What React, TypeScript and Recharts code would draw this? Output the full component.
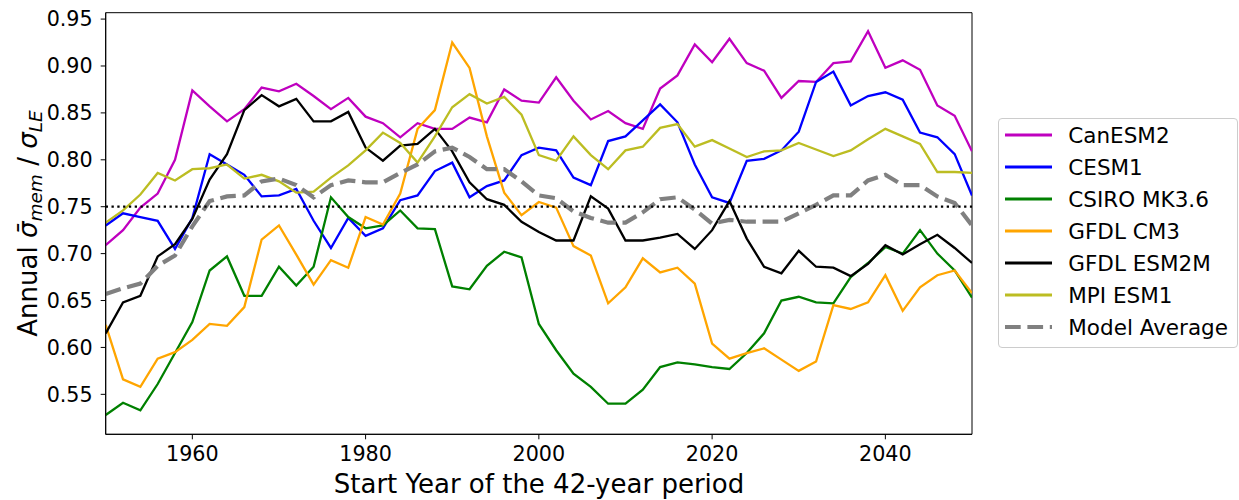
import React from 'react';
import { LineChart, Line, XAxis, YAxis, ReferenceLine, ReferenceArea, Label } from 'recharts';

const FONT = '"DejaVu Sans", "Liberation Sans", sans-serif';

// Start year of each 42-year window
const years = [
  1950, 1952, 1954, 1956, 1958, 1960, 1962, 1964, 1966, 1968, 1970, 1972, 1974, 1976,
  1978, 1980, 1982, 1984, 1986, 1988, 1990, 1992, 1994, 1996, 1998, 2000,
  2002, 2004, 2006, 2008, 2010, 2012, 2014, 2016, 2018, 2020, 2022, 2024, 2026,
  2028, 2030, 2032, 2034, 2036, 2038, 2040, 2042, 2044, 2046, 2048, 2050,
];

const canesm2 = [
  0.709, 0.725, 0.749, 0.764, 0.800, 0.874, 0.857, 0.841, 0.854, 0.877, 0.873, 0.881, 0.868, 0.854,
  0.866, 0.846, 0.839, 0.824, 0.839, 0.833, 0.833, 0.845, 0.840, 0.875, 0.863, 0.861,
  0.888, 0.863, 0.843, 0.852, 0.839, 0.833, 0.876, 0.890, 0.923, 0.904, 0.929, 0.903, 0.895,
  0.866, 0.884, 0.883, 0.903, 0.905, 0.937, 0.898, 0.906, 0.896, 0.858, 0.847, 0.809,
];

const cesm1 = [
  0.730, 0.743, 0.739, 0.735, 0.705, 0.738, 0.806, 0.795, 0.784, 0.761, 0.762, 0.769, 0.735, 0.706,
  0.738, 0.719, 0.727, 0.757, 0.762, 0.788, 0.797, 0.760, 0.772, 0.778, 0.805, 0.813,
  0.810, 0.781, 0.773, 0.820, 0.825, 0.842, 0.859, 0.840, 0.795, 0.760, 0.754, 0.799, 0.801,
  0.810, 0.830, 0.883, 0.894, 0.858, 0.868, 0.872, 0.864, 0.829, 0.824, 0.806, 0.762,
];

const csiroMk36 = [
  0.528, 0.541, 0.533, 0.561, 0.594, 0.627, 0.682, 0.697, 0.655, 0.655, 0.686, 0.666, 0.686, 0.760,
  0.739, 0.727, 0.730, 0.746, 0.727, 0.726, 0.665, 0.662, 0.687, 0.702, 0.696, 0.625,
  0.597, 0.572, 0.558, 0.540, 0.540, 0.555, 0.579, 0.584, 0.582, 0.579, 0.577, 0.594, 0.615,
  0.650, 0.654, 0.648, 0.647, 0.675, 0.690, 0.707, 0.700, 0.725, 0.700, 0.682, 0.653,
];

const gfdlCm3 = [
  0.624, 0.566, 0.558, 0.588, 0.595, 0.608, 0.625, 0.623, 0.643, 0.715, 0.730, 0.699, 0.667, 0.693,
  0.685, 0.739, 0.731, 0.764, 0.833, 0.853, 0.925, 0.898, 0.825, 0.765, 0.741, 0.755,
  0.749, 0.708, 0.698, 0.647, 0.664, 0.695, 0.680, 0.685, 0.668, 0.604, 0.588, 0.594, 0.599,
  0.587, 0.575, 0.585, 0.645, 0.641, 0.648, 0.677, 0.639, 0.664, 0.677, 0.682, 0.658,
];

const gfdlEsm2m = [
  0.615, 0.648, 0.655, 0.697, 0.710, 0.737, 0.779, 0.806, 0.853, 0.869, 0.857, 0.865, 0.841, 0.841,
  0.851, 0.813, 0.799, 0.815, 0.817, 0.833, 0.809, 0.776, 0.758, 0.752, 0.734, 0.723,
  0.714, 0.714, 0.761, 0.748, 0.714, 0.714, 0.717, 0.721, 0.705, 0.725, 0.756, 0.716, 0.686,
  0.679, 0.703, 0.686, 0.685, 0.676, 0.689, 0.709, 0.699, 0.710, 0.720, 0.706, 0.690,
];

const mpiEsm1 = [
  0.733, 0.746, 0.763, 0.786, 0.778, 0.790, 0.791, 0.795, 0.780, 0.784, 0.777, 0.765, 0.766, 0.781,
  0.794, 0.810, 0.829, 0.818, 0.797, 0.825, 0.856, 0.870, 0.860, 0.867, 0.848, 0.805,
  0.799, 0.825, 0.805, 0.790, 0.810, 0.814, 0.834, 0.838, 0.814, 0.821, 0.812, 0.803, 0.809,
  0.810, 0.818, 0.811, 0.804, 0.810, 0.822, 0.833, 0.825, 0.817, 0.787, 0.787, 0.786,
];

const modelAverage = [
  0.657, 0.663, 0.668, 0.687, 0.698, 0.729, 0.756, 0.761, 0.762, 0.777, 0.780, 0.773, 0.760, 0.773,
  0.778, 0.776, 0.776, 0.786, 0.795, 0.809, 0.813, 0.803, 0.790, 0.790, 0.777, 0.762,
  0.759, 0.745, 0.738, 0.733, 0.733, 0.744, 0.758, 0.760, 0.747, 0.732, 0.736, 0.734, 0.734,
  0.734, 0.743, 0.752, 0.762, 0.762, 0.778, 0.784, 0.773, 0.773, 0.761, 0.754, 0.730,
];

const xTicks = [1960, 1980, 2000, 2020, 2040];
const yTicks = [0.55, 0.6, 0.65, 0.7, 0.75, 0.8, 0.85, 0.9, 0.95];
const X_DOMAIN: [number, number] = [1950, 2050];
const Y_DOMAIN: [number, number] = [0.5074, 0.9568];
const REFERENCE_RATIO = 0.75;

type SeriesDef = { key: string; name: string; color: string; dashed?: boolean };

const series: SeriesDef[] = [
  { key: 'canesm2', name: 'CanESM2', color: '#bf00bf' },
  { key: 'cesm1', name: 'CESM1', color: '#0000ff' },
  { key: 'csiroMk36', name: 'CSIRO MK3.6', color: '#008000' },
  { key: 'gfdlCm3', name: 'GFDL CM3', color: '#ffa500' },
  { key: 'gfdlEsm2m', name: 'GFDL ESM2M', color: '#000000' },
  { key: 'mpiEsm1', name: 'MPI ESM1', color: '#bcbd22' },
  { key: 'modelAverage', name: 'Model Average', color: '#808080', dashed: true },
];

const data = years.map((year, i) => ({
  year,
  canesm2: canesm2[i],
  cesm1: cesm1[i],
  csiroMk36: csiroMk36[i],
  gfdlCm3: gfdlCm3[i],
  gfdlEsm2m: gfdlEsm2m[i],
  mpiEsm1: mpiEsm1[i],
  modelAverage: modelAverage[i],
}));

const LINE_W = 2.3;
const AVG_W = 4.2;
const AVG_DASH = '15.7 6.7';

// Legend box to the right of the axes
const LegendBox = () => (
  <div
    style={{
      position: 'absolute',
      left: 998,
      top: 118,
      width: 240,
      height: 230,
      boxSizing: 'border-box',
      border: '1px solid #cccccc',
      borderRadius: 4,
      background: 'rgba(255,255,255,0.8)',
    }}
  >
    <svg width={238} height={228} style={{ display: 'block' }}>
      {series.map((s, i) => {
        const cy = 16 + i * 32;
        return (
          <g key={s.key}>
            <line
              x1={6}
              x2={53}
              y1={cy}
              y2={cy}
              stroke={s.color}
              strokeWidth={s.dashed ? AVG_W : 2.8}
              strokeDasharray={s.dashed ? AVG_DASH : undefined}
            />
            <text x={69.3} y={cy + 8} fontSize={21.5} fontFamily={FONT} fill="#000">
              {s.name}
            </text>
          </g>
        );
      })}
    </svg>
  </div>
);

const XLabel = () => (
  <text x={539} y={493.3} textAnchor="middle" fontSize={26} fontFamily={FONT} fill="#000">
    Start Year of the 42-year period
  </text>
);

const YLabel = () => {
  const x = 37;
  const y = 223.5;
  return (
    <text
      x={x}
      y={y}
      transform={`rotate(-90, ${x}, ${y})`}
      textAnchor="middle"
      fontSize={26}
      fontFamily={FONT}
      fill="#000"
    >
      <tspan>Annual </tspan>
      <tspan fontStyle="italic">{'\u03C3\u0304'}</tspan>
      <tspan fontStyle="italic" fontSize={18.5} dy={5}>mem</tspan>
      <tspan dy={-5}>{' / '}</tspan>
      <tspan fontStyle="italic">{'\u03C3'}</tspan>
      <tspan fontStyle="italic" fontSize={18.5} dy={5}>LE</tspan>
    </text>
  );
};

export default function App() {
  return (
    <div style={{ position: 'absolute', left: 0, top: 0, width: 1239, height: 500, background: '#fff' }}>
      <LineChart
        width={1239}
        height={500}
        data={data}
        margin={{ top: 12.7, right: 267, bottom: 0, left: 0 }}
      >
        <XAxis
          dataKey="year"
          type="number"
          domain={X_DOMAIN}
          ticks={xTicks}
          allowDataOverflow
          height={65.7}
          tickSize={5}
          tickMargin={7}
          axisLine={{ stroke: '#000', strokeWidth: 1 }}
          tickLine={{ stroke: '#000', strokeWidth: 1 }}
          tick={{ fill: '#000', fontSize: 20.7, fontFamily: FONT }}
        >
          <Label content={XLabel} />
        </XAxis>
        <YAxis
          type="number"
          domain={Y_DOMAIN}
          ticks={yTicks}
          interval={0}
          allowDataOverflow
          width={105.7}
          tickSize={5}
          tickMargin={8}
          tickFormatter={(v: number) => v.toFixed(2)}
          axisLine={{ stroke: '#000', strokeWidth: 1 }}
          tickLine={{ stroke: '#000', strokeWidth: 1 }}
          tick={{ fill: '#000', fontSize: 20.7, fontFamily: FONT }}
        >
          <Label content={YLabel} />
        </YAxis>
        {series.map((s) => (
          <Line
            key={s.key}
            type="linear"
            dataKey={s.key}
            name={s.name}
            stroke={s.color}
            strokeWidth={s.dashed ? AVG_W : LINE_W}
            strokeDasharray={s.dashed ? AVG_DASH : undefined}
            dot={false}
            activeDot={false}
            isAnimationActive={false}
          />
        ))}
        <ReferenceLine
          y={REFERENCE_RATIO}
          stroke="#000"
          strokeWidth={2.3}
          strokeDasharray="2.3 3.5"
        />
        <ReferenceArea
          x1={X_DOMAIN[0]}
          x2={X_DOMAIN[1]}
          y1={Y_DOMAIN[0]}
          y2={Y_DOMAIN[1]}
          fill="none"
          fillOpacity={0}
          stroke="#000"
          strokeWidth={1}
        />
      </LineChart>
      <LegendBox />
    </div>
  );
}
